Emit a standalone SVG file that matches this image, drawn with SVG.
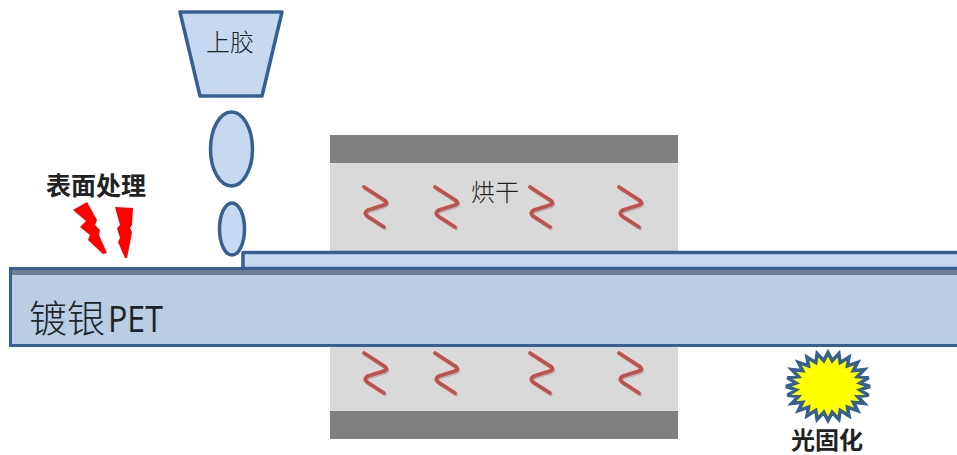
<svg xmlns="http://www.w3.org/2000/svg" width="957" height="455" viewBox="0 0 957 455">
  <style>
    .blue { fill: #c6d9f1; stroke: #376092; stroke-width: 3.500; stroke-linejoin: round; }
    .film { fill: #b9cde5; stroke: #376092; stroke-width: 3; }
    .dark { fill: #808080; }
    .light { fill: #d9d9d9; }
    .heat { fill: none; stroke: #c0504d; stroke-width: 3.800; stroke-linejoin: round; stroke-linecap: round; }
    .heat-shadow { fill: none; stroke: #8a8a8a; stroke-opacity: .5; stroke-width: 3.500; stroke-linejoin: round; stroke-linecap: round; }
    .spark { fill: #ff0000; }
    text { font-family: "Noto Sans CJK SC", "Noto Sans", sans-serif; fill: #222222; }
    .bold { font-weight: 700; font-size: 25px; }
    .plain { font-size: 24px; font-weight: 300; }
  </style>
  <defs>
    <path id="coil" d="M0 0 L20 13 Q25 16 20 18 L4 23 Q-1 26 3 29 L20 40"/>
    <g id="coil-shadowed">
      <use href="#coil" class="heat-shadow" x="1" y="1.500"/>
      <use href="#coil" class="heat"/>
    </g>
  </defs>

  <g id="oven-top">
    <rect class="light" x="330" y="163" width="348" height="88"/>
    <rect class="dark" x="330" y="135" width="348" height="28"/>
    <use href="#coil-shadowed" x="364" y="187"/>
    <use href="#coil-shadowed" x="435" y="187"/>
    <use href="#coil-shadowed" x="530" y="187"/>
    <use href="#coil-shadowed" x="619" y="187"/>
    <text class="plain" x="495" y="201" text-anchor="middle">烘干</text>
  </g>

  <g id="oven-bottom">
    <rect class="light" x="330" y="347" width="348" height="64"/>
    <rect class="dark" x="330" y="411" width="348" height="28"/>
    <use href="#coil-shadowed" x="364" y="353"/>
    <use href="#coil-shadowed" x="435" y="353"/>
    <use href="#coil-shadowed" x="530" y="353"/>
    <use href="#coil-shadowed" x="619" y="353"/>
  </g>

  <g id="coating-layer">
    <rect class="blue" x="243" y="252.500" width="720" height="16"/>
  </g>

  <g id="pet-film">
    <rect class="film" x="10.500" y="268.500" width="960" height="77"/>
    <rect x="12" y="270" width="945" height="5" fill="#6f7f92"/>
    <text x="29" y="332" font-size="38" font-weight="300">镀银</text>
    <text x="108" y="332" font-size="36" textLength="55" lengthAdjust="spacingAndGlyphs" style="font-family:'Open Sans','Noto Sans',sans-serif" fill="#10182a">PET</text>
  </g>

  <g id="glue-hopper">
    <polygon class="blue" points="180,12 282,12 262,96 200,96"/>
    <text class="plain" x="230" y="51" text-anchor="middle">上胶</text>
  </g>

  <g id="glue-drop-large">
    <ellipse class="blue" cx="231.500" cy="149" rx="21" ry="37"/>
  </g>
  <g id="glue-drop-small">
    <ellipse class="blue" cx="232" cy="229" rx="12.500" ry="26"/>
  </g>

  <g id="surface-treatment">
    <polygon class="spark" points="73,210 87,202 97,220 95,225 100,230 99,235 107,253 103,254 88,240 90,235 80,227 86,221"/>
    <polygon class="spark" points="115,207 133,208 132,225 130,228 132,232 131,238 127,258 125,258 118,242 120,238 117,228 120,225"/>
    <text class="bold" x="96" y="195" text-anchor="middle">表面处理</text>
  </g>

  <g id="uv-curing">
    <polygon transform="translate(828 386.500) scale(.42 .34)" fill="#ffff00" stroke="#376092" stroke-width="3.500" stroke-linejoin="miter" stroke-miterlimit="3" vector-effect="non-scaling-stroke" points="100,0 76,10 96.600,25.900 70.200,29.100 86.600,50 60.300,46.300 70.700,70.700 46.300,60.300 50,86.600 29.100,70.200 25.900,96.600 10,76 0,100 -10,76 -25.900,96.600 -29.100,70.200 -50,86.600 -46.300,60.300 -70.700,70.700 -60.300,46.300 -86.600,50 -70.200,29.100 -96.600,25.900 -76,10 -100,0 -76,-10 -96.600,-25.900 -70.200,-29.100 -86.600,-50 -60.300,-46.300 -70.700,-70.700 -46.300,-60.300 -50,-86.600 -29.100,-70.200 -25.900,-96.600 -10,-76 0,-100 10,-76 25.900,-96.600 29.100,-70.200 50,-86.600 46.300,-60.300 70.700,-70.700 60.300,-46.300 86.600,-50 70.200,-29.100 96.600,-25.900 76,-10"/>
    <text class="bold" x="827" y="449" text-anchor="middle" style="font-size:24px">光固化</text>
  </g>
</svg>
